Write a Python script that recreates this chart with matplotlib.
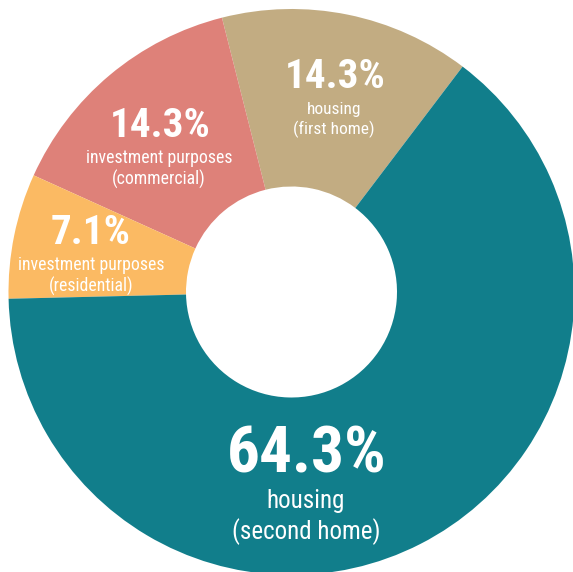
import matplotlib
matplotlib.use("Agg")
import matplotlib.pyplot as plt
from matplotlib import font_manager

# Loan purpose shares (count of 14 cases)
categories = ["housing (first home)", "investment purposes (commercial)",
              "investment purposes (residential)", "housing (second home)"]
values = [2, 2, 1, 9]
pct_labels = ["14.3%", "14.3%", "7.1%", "64.3%"]
sub_labels = ["housing\n(first home)", "investment purposes\n(commercial)",
              "investment purposes\n(residential)", "housing\n(second home)"]
colors = ["#C2AC82", "#DE8179", "#FBBA63", "#117E8B"]

available = {f.name for f in font_manager.fontManager.ttflist}
family = [f for f in ["Liberation Sans Narrow", "Roboto Condensed", "Liberation Sans", "DejaVu Sans"]
          if f in available]
plt.rcParams["font.family"] = family

W, H = 573, 572
fig = plt.figure(figsize=(W / 100, H / 100), dpi=100)
ax = fig.add_axes([0, 0, 1, 1])

cx, cy = 291.5, H - 292
r_out, r_in = 283, 105.5
ax.pie(values, colors=colors, startangle=52.8, counterclock=True,
       center=(cx, cy), radius=r_out, frame=True,
       wedgeprops=dict(width=r_out - r_in, linewidth=0))
ax.set_xlim(0, W)
ax.set_ylim(0, H)
ax.set_aspect("equal")
ax.axis("off")

# label placement (pixel coords from top-left): percent centre, subtitle centre
pct_pos = [(335, 77), (160, 126), (91, 233), (307, 455)]
pct_size = [29.5, 29.5, 29.5, 47]
sub_pos = [(334, 120), (159, 169), (91, 276), (306, 517)]
sub_size = [12.5, 12.8, 12.8, 18]

for i in range(len(values)):
    x, y = pct_pos[i]
    ax.text(x, H - y, pct_labels[i], ha="center", va="center", color="white",
            fontsize=pct_size[i], fontweight="bold")
    x, y = sub_pos[i]
    ax.text(x, H - y, sub_labels[i], ha="center", va="center", color="white",
            fontsize=sub_size[i], linespacing=1.25, multialignment="center")

fig.savefig("out.png", dpi=100)
